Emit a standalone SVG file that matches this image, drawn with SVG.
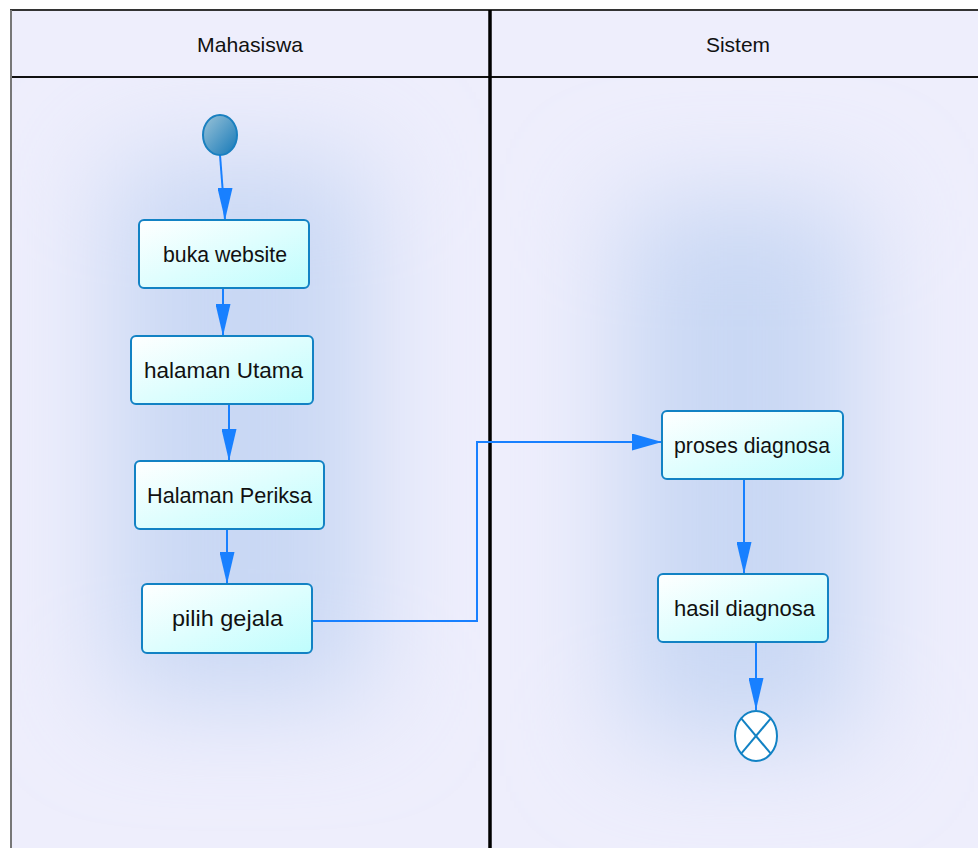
<svg xmlns="http://www.w3.org/2000/svg" width="978" height="848" viewBox="0 0 978 848">
<style>
.lbl{font-family:"Liberation Sans",Arial,sans-serif;font-size:22px;fill:#111;text-anchor:middle}
.hdr{font-family:"Liberation Sans",Arial,sans-serif;font-size:21px;fill:#111;text-anchor:middle}
.box{fill:url(#boxg);stroke:#1282C4;stroke-width:2}
.con{fill:none;stroke:#1880FF;stroke-width:2}
</style>
<defs>
<linearGradient id="boxg" x1="0" y1="0" x2="1" y2="1">
<stop offset="0" stop-color="#FFFFFF"/>
<stop offset="1" stop-color="#BEFDFD"/>
</linearGradient>
<linearGradient id="startg" x1="0" y1="0" x2="1" y2="1">
<stop offset="0" stop-color="#9CC4D8"/>
<stop offset="1" stop-color="#1478B8"/>
</linearGradient>
<filter id="blur" x="-50%" y="-50%" width="200%" height="200%">
<feGaussianBlur stdDeviation="55"/>
</filter>
<marker id="arr" viewBox="0 0 30 17" refX="30" refY="8.5" markerWidth="30" markerHeight="17" markerUnits="userSpaceOnUse" orient="0">
<path d="M0,0 L30,8.5 L0,17 Z" fill="#1880FF"/>
</marker>
<marker id="arrv" viewBox="0 0 15 32" refX="7.5" refY="32" markerWidth="15" markerHeight="32" markerUnits="userSpaceOnUse" orient="0">
<path d="M0,0 L15,0 L7.5,32 Z" fill="#1880FF"/>
</marker>
<clipPath id="clipL"><rect x="11" y="78" width="478" height="770"/></clipPath>
<clipPath id="clipR"><rect x="492" y="78" width="486" height="770"/></clipPath>
</defs>

<g id="background">
<rect x="0" y="0" width="978" height="848" fill="#FFFFFF"/>
<rect x="10" y="10" width="968" height="838" fill="#EFEFFD"/>
<g clip-path="url(#clipL)">
<rect x="11" y="78" width="478" height="770" fill="#EEEEFC"/>
<rect x="110" y="160" width="260" height="540" fill="#C9D8F4" filter="url(#blur)"/>
</g>
<g clip-path="url(#clipR)">
<rect x="492" y="78" width="486" height="770" fill="#EEEEFC"/>
<rect x="620" y="200" width="240" height="540" fill="#C9D8F4" filter="url(#blur)"/>
</g>
</g>

<g id="lanes">
<rect x="11" y="11" width="478" height="66" fill="#EEEEFC"/>
<rect x="492" y="11" width="486" height="66" fill="#EEEEFC"/>
<line x1="10" y1="10" x2="978" y2="10" stroke="#333" stroke-width="2"/>
<line x1="10" y1="77" x2="978" y2="77" stroke="#111" stroke-width="2"/>
<line x1="11" y1="10" x2="11" y2="848" stroke="#777" stroke-width="2"/>
<line x1="490" y1="10" x2="490" y2="848" stroke="#000" stroke-width="3.5"/>
<text class="hdr" x="250" y="52" textLength="106" lengthAdjust="spacingAndGlyphs">Mahasiswa</text>
<text class="hdr" x="738" y="52" textLength="64" lengthAdjust="spacingAndGlyphs">Sistem</text>
</g>

<g id="connectors">
<line class="con" x1="220" y1="155" x2="225" y2="220" marker-end="url(#arrv)"/>
<line class="con" x1="223" y1="289" x2="223" y2="336" marker-end="url(#arrv)"/>
<line class="con" x1="229" y1="405" x2="229" y2="461" marker-end="url(#arrv)"/>
<line class="con" x1="227" y1="530" x2="227" y2="584" marker-end="url(#arrv)"/>
<polyline class="con" points="313,621 477,621 477,442 662,442" marker-end="url(#arr)"/>
<line class="con" x1="744" y1="480" x2="744" y2="574" marker-end="url(#arrv)"/>
<line class="con" x1="756" y1="643" x2="756" y2="710" marker-end="url(#arrv)"/>
</g>

<g id="start">
<ellipse cx="220" cy="135" rx="17" ry="20" fill="url(#startg)" stroke="#1A80C0" stroke-width="2"/>
</g>

<g id="buka-website">
<rect class="box" x="139" y="220" width="170" height="68" rx="5"/>
<text class="lbl" x="225" y="262" textLength="124" lengthAdjust="spacingAndGlyphs">buka website</text>
</g>

<g id="halaman-utama">
<rect class="box" x="131" y="336" width="182" height="68" rx="5"/>
<text class="lbl" x="223.5" y="378" textLength="159" lengthAdjust="spacingAndGlyphs">halaman Utama</text>
</g>

<g id="halaman-periksa">
<rect class="box" x="135" y="461" width="189" height="68" rx="5"/>
<text class="lbl" x="229.5" y="503" textLength="165" lengthAdjust="spacingAndGlyphs">Halaman Periksa</text>
</g>

<g id="pilih-gejala">
<rect class="box" x="142" y="584" width="170" height="69" rx="5"/>
<text class="lbl" x="227.5" y="626" textLength="111" lengthAdjust="spacingAndGlyphs">pilih gejala</text>
</g>

<g id="proses-diagnosa">
<rect class="box" x="662" y="411" width="181" height="68" rx="5"/>
<text class="lbl" x="752" y="453" textLength="156" lengthAdjust="spacingAndGlyphs">proses diagnosa</text>
</g>

<g id="hasil-diagnosa">
<rect class="box" x="658" y="574" width="170" height="68" rx="5"/>
<text class="lbl" x="744.5" y="616" textLength="141" lengthAdjust="spacingAndGlyphs">hasil diagnosa</text>
</g>

<g id="end">
<ellipse cx="756" cy="736" rx="21" ry="25" fill="#FFFFFF" stroke="#1282C4" stroke-width="2"/>
<line x1="741.2" y1="718.3" x2="770.8" y2="753.7" stroke="#1282C4" stroke-width="2"/>
<line x1="770.8" y1="718.3" x2="741.2" y2="753.7" stroke="#1282C4" stroke-width="2"/>
</g>
</svg>
